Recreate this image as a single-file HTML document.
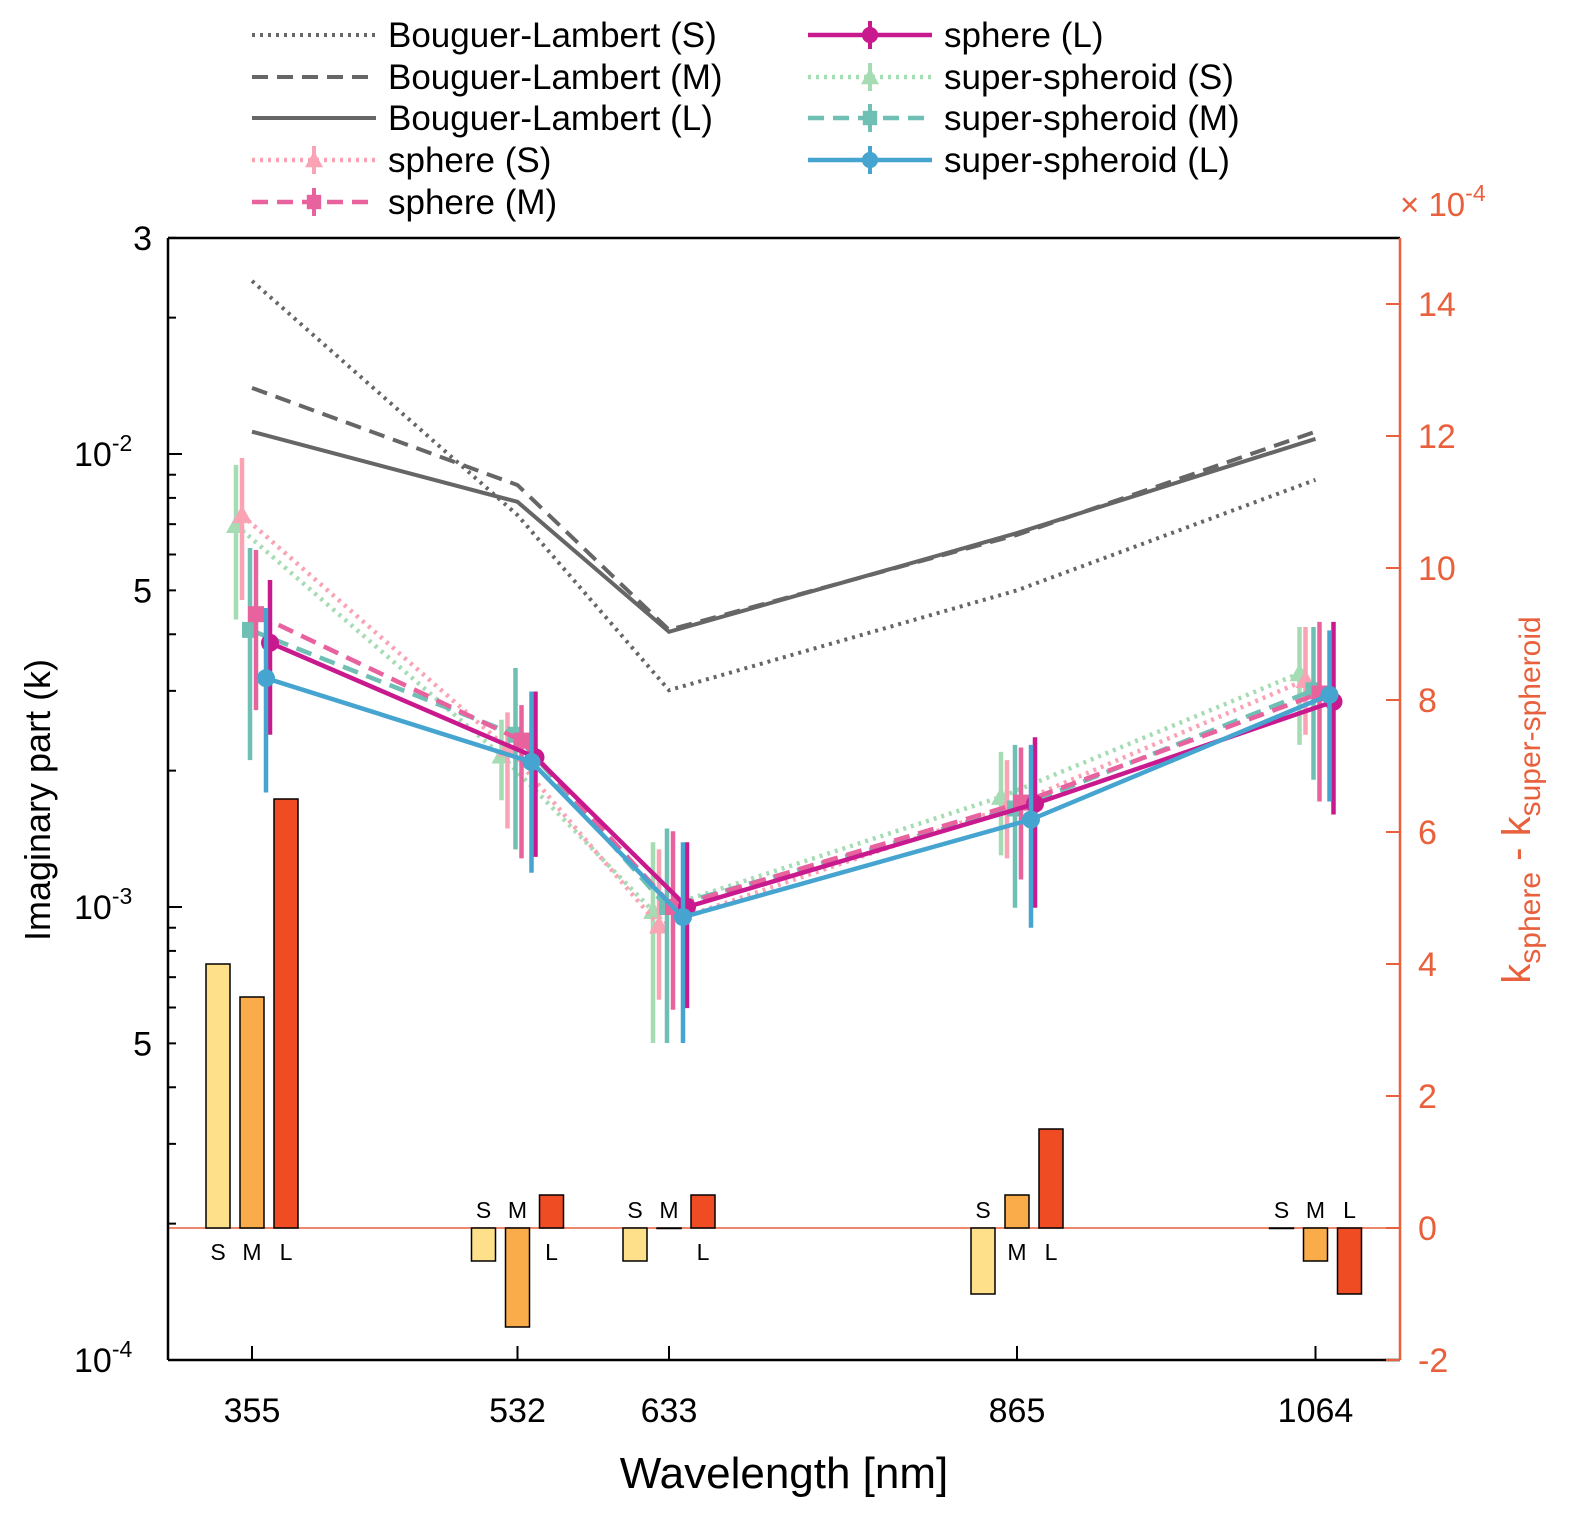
<!DOCTYPE html>
<html><head><meta charset="utf-8">
<style>
body{margin:0;background:#fff;}
svg{display:block;font-family:"Liberation Sans",Arial,sans-serif;}
</style></head>
<body>
<svg id="chart" width="1580" height="1528" viewBox="0 0 1580 1528" xmlns="http://www.w3.org/2000/svg"></svg>
<script>
// ---- data ----
const wavelengths = [355, 532, 633, 865, 1064];
const blS = [0.0241, 0.00733, 0.00301, 0.0050, 0.00877];
const blM = [0.01399, 0.00854, 0.00409, 0.00663, 0.0112];
const blL = [0.0112, 0.00784, 0.00405, 0.00669, 0.0108];
const sphS = [0.00733, 0.00224, 0.00091, 0.00166, 0.00317];
const sphM = [0.00443, 0.00233, 0.00100, 0.00170, 0.00296];
const sphL = [0.00383, 0.00214, 0.00100, 0.00169, 0.00284];
const ssS = [0.00697, 0.00216, 0.00098, 0.00175, 0.00328];
const ssM = [0.00409, 0.00240, 0.00100, 0.00165, 0.00301];
const ssL = [0.00320, 0.00209, 0.00095, 0.00156, 0.00294];
const sphSLo = [0.00476, 0.00149, 0.000624, 0.00128, 0.0024];
const sphSHi = [0.0098, 0.00269, 0.00134, 0.00211, 0.00415];
const ssSLo = [0.00431, 0.00172, 0.000501, 0.0013, 0.00228];
const ssSHi = [0.00946, 0.00259, 0.00139, 0.0022, 0.00415];
const sphMLo = [0.00272, 0.00128, 0.000593, 0.00115, 0.00171];
const sphMHi = [0.00614, 0.00279, 0.00147, 0.00225, 0.00426];
const ssMLo = [0.00211, 0.00134, 0.000501, 0.000996, 0.00191];
const ssMHi = [0.0062, 0.00337, 0.00149, 0.00228, 0.00415];
const sphLLo = [0.0024, 0.00129, 0.000598, 0.000996, 0.0016];
const sphLHi = [0.00527, 0.00299, 0.00139, 0.00237, 0.00426];
const ssLLo = [0.00179, 0.00119, 0.000501, 0.0009, 0.00171];
const ssLHi = [0.00457, 0.00299, 0.00139, 0.00228, 0.00408];
const diffS = [4.0, -0.5, -0.5, -1.0, 0];
const diffM = [3.5, -1.5, 0, 0.5, -0.5];
const diffL = [6.5, 0.5, 0.5, 1.5, -1.0];
const xTickLabels = ["355", "532", "633", "865", "1064"];
const rightTicks = [-2, 0, 2, 4, 6, 8, 10, 12, 14];

// ---- axes ----
const L = 168, R = 1400, T = 238, B = 1360;
const NS = "http://www.w3.org/2000/svg";
const svg = document.getElementById('chart');
const xs = w => 252 + (w - 355) * 1.5;
const yl = k => 454 - (Math.log10(k) + 2) * 453;
const yr = v => 1228 - v * 66;
function el(tag, attrs, parent) {
  const e = document.createElementNS(NS, tag);
  for (const a in attrs) e.setAttribute(a, attrs[a]);
  (parent || svg).appendChild(e);
  return e;
}
function txt(x, y, s, attrs, parent) {
  const t = el('text', Object.assign({x: x, y: y}, attrs), parent);
  t.textContent = s;
  return t;
}
const ORANGE = "#e8603c";

const zl = el('line', {x1: L, x2: R, y1: yr(0), y2: yr(0), stroke: ORANGE, 'stroke-width': 1.5});



// bars
const barCols = ["#fee08b", "#fbac4a", "#ef4c23"];
const barSets = [diffS, diffM, diffL];
const barLab = ["S", "M", "L"];
const gBars = el('g', {});


wavelengths.forEach((w, i) => {
  barSets.forEach((set, j) => {
    const cx = xs(w) + (j - 1) * 34;
    const v = set[i];
    const y0 = yr(0), y1 = yr(v);
    const r = el('rect', {x: cx - 12, y: Math.min(y0, y1), width: 24, height: Math.max(Math.abs(y1 - y0), 0.5), fill: barCols[j], stroke: "#000", 'stroke-width': 1.5}, gBars);
    
    
    const ly = v > 0 ? y0 + 32 : y0 - 10;
    const t = txt(cx, ly, barLab[j], {'font-size': 23, 'text-anchor': 'middle', fill: '#000'}, gBars);
    
    
  });
});

function line(vals, color, dash, width, name, off) {
  const pts = vals.map((v, i) => (xs(wavelengths[i]) + (off || 0)) + "," + yl(v)).join(" ");
  const p = el('polyline', {points: pts, fill: 'none', stroke: color, 'stroke-width': width, 'stroke-dasharray': dash || 'none'});
  
  
  return p;
}
line(blS, "#666", "3,5", 4, "bouguer-lambert-s-line");
line(blM, "#666", "16,9", 4, "bouguer-lambert-m-line");
line(blL, "#666", null, 4, "bouguer-lambert-l-line");

function marker(g, type, x, y, color, size) {
  let m;
  if (type === 'tri') m = el('polygon', {points: `${x},${y - size} ${x - size},${y + size * 0.8} ${x + size},${y + size * 0.8}`, fill: color}, g);
  else if (type === 'sq') m = el('rect', {x: x - size * 0.8, y: y - size * 0.8, width: size * 1.6, height: size * 1.6, fill: color}, g);
  else m = el('circle', {cx: x, cy: y, r: size * 0.9, fill: color}, g);
  
  
}
const series = [
  {v: ssS, lo: ssSLo, hi: ssSHi, c: "#a6dcb4", d: "3,5", m: 'tri', off: -16, n: 'super-spheroid-s'},
  {v: sphS, lo: sphSLo, hi: sphSHi, c: "#f9a3b5", d: "3,5", m: 'tri', off: -10, n: 'sphere-s'},
  {v: ssM, lo: ssMLo, hi: ssMHi, c: "#6fbfb5", d: "16,9", m: 'sq', off: -2, n: 'super-spheroid-m'},
  {v: sphM, lo: sphMLo, hi: sphMHi, c: "#e8629e", d: "16,9", m: 'sq', off: 4, n: 'sphere-m'},
  {v: sphL, lo: sphLLo, hi: sphLHi, c: "#c9198f", d: null, m: 'circ', off: 18, n: 'sphere-l'},
  {v: ssL, lo: ssLLo, hi: ssLHi, c: "#45a5d0", d: null, m: 'circ', off: 14, n: 'super-spheroid-l'}
];
series.forEach(s => {
  const g = el('g', {});
  
  
  wavelengths.forEach((w, i) => {
    const x = xs(w) + s.off;
    const e = el('line', {x1: x, x2: x, y1: yl(s.lo[i]), y2: yl(s.hi[i]), stroke: s.c, 'stroke-width': 4.5}, g);
    
    
  });
  const pts = s.v.map((v, i) => (xs(wavelengths[i]) + s.off) + "," + yl(v)).join(" ");
  const p = el('polyline', {points: pts, fill: 'none', stroke: s.c, 'stroke-width': 4.5, 'stroke-dasharray': s.d || 'none'}, g);
  
  
  wavelengths.forEach((w, i) => marker(g, s.m, xs(w) + s.off, yl(s.v[i]), s.c, 10));
});

// frame
const gAx = el('g', {});


el('line', {x1: L, x2: L, y1: T, y2: B, stroke: '#000', 'stroke-width': 2.5}, gAx);
el('line', {x1: L, x2: R, y1: T, y2: T, stroke: '#000', 'stroke-width': 2.5}, gAx);
el('line', {x1: L, x2: R, y1: B, y2: B, stroke: '#000', 'stroke-width': 2.5}, gAx);
el('line', {x1: R, x2: R, y1: T, y2: B, stroke: ORANGE, 'stroke-width': 2.5}, gAx);
for (let d = -4; d <= -2; d++) {
  for (let m = 1; m <= 9; m++) {
    const k = m * Math.pow(10, d);
    if (k > 0.0301) continue;
    const y = yl(k);
    el('line', {x1: L, x2: L + (m === 1 ? 14 : 8), y1: y, y2: y, stroke: '#000', 'stroke-width': 2}, gAx);
  }
}
const ylabs = [[0.03, "3"], [0.01, "10", "-2"], [0.005, "5"], [0.001, "10", "-3"], [0.0005, "5"], [0.0001, "10", "-4"]];
ylabs.forEach(l => {
  const t = txt(L - 16, yl(l[0]) + 12, l[1], {'font-size': 34, 'text-anchor': 'end'}, gAx);
  if (l[2]) { const ts = el('tspan', {dy: -15, 'font-size': 23}, t); ts.textContent = l[2]; t.setAttribute('x', L - 40); t.setAttribute('text-anchor','start'); t.setAttribute('x', 74); }
  
  
});
rightTicks.forEach(v => {
  const y = yr(v);
  el('line', {x1: R - 14, x2: R, y1: y, y2: y, stroke: ORANGE, 'stroke-width': 2}, gAx);
  const t = txt(R + 18, y + 12, String(v), {'font-size': 34, fill: ORANGE}, gAx);
  
  
});
wavelengths.forEach((w, i) => {
  const x = xs(w);
  el('line', {x1: x, x2: x, y1: B - 14, y2: B, stroke: '#000', 'stroke-width': 2}, gAx);
  const t = txt(x, 1422, xTickLabels[i], {'font-size': 34, 'text-anchor': 'middle'}, gAx);
  
  
});
let t = txt(784, 1488, "Wavelength [nm]", {'font-size': 44, 'text-anchor': 'middle'});


t = txt(0, 0, "Imaginary part (k)", {'font-size': 36, 'text-anchor': 'middle', transform: 'translate(50,800) rotate(-90)'});


t = txt(0, 0, "k", {'font-size': 40, 'text-anchor': 'middle', fill: ORANGE, transform: 'translate(1530,800) rotate(-90)'});
let s1 = el('tspan', {dy: 10, 'font-size': 30}, t); s1.textContent = "sphere";
let s2 = el('tspan', {dy: -10}, t); s2.textContent = " - k";
let s3 = el('tspan', {dy: 10, 'font-size': 30}, t); s3.textContent = "super-spheroid";


t = txt(1400, 216, "× 10", {'font-size': 33, fill: ORANGE});
let s4 = el('tspan', {dy: -15, 'font-size': 23}, t); s4.textContent = "-4";



// legend
const legend = el('g', {});


const legItems = [
  [252, 35, "Bouguer-Lambert (S)", "#666", "3,5", null, 4],
  [252, 77, "Bouguer-Lambert (M)", "#666", "16,9", null, 4],
  [252, 118, "Bouguer-Lambert (L)", "#666", null, null, 4],
  [252, 160, "sphere (S)", "#f9a3b5", "3,5", 'tri', 4.5],
  [252, 202, "sphere (M)", "#e8629e", "16,9", 'sq', 4.5],
  [808, 35, "sphere (L)", "#c9198f", null, 'circ', 4.5],
  [808, 77, "super-spheroid (S)", "#a6dcb4", "3,5", 'tri', 4.5],
  [808, 118, "super-spheroid (M)", "#6fbfb5", "16,9", 'sq', 4.5],
  [808, 160, "super-spheroid (L)", "#45a5d0", null, 'circ', 4.5]
];
legItems.forEach(it => {
  const g = el('g', {}, legend);
  
  
  el('line', {x1: it[0], x2: it[0] + 124, y1: it[1], y2: it[1], stroke: it[3], 'stroke-width': it[6], 'stroke-dasharray': it[4] || 'none'}, g);
  if (it[5]) {
    el('line', {x1: it[0] + 62, x2: it[0] + 62, y1: it[1] - 14, y2: it[1] + 14, stroke: it[3], 'stroke-width': 4}, g);
    marker(g, it[5], it[0] + 62, it[1], it[3], 9);
  }
  txt(it[0] + 136, it[1] + 12, it[2], {'font-size': 35}, g);
});
</script>
</body></html>
